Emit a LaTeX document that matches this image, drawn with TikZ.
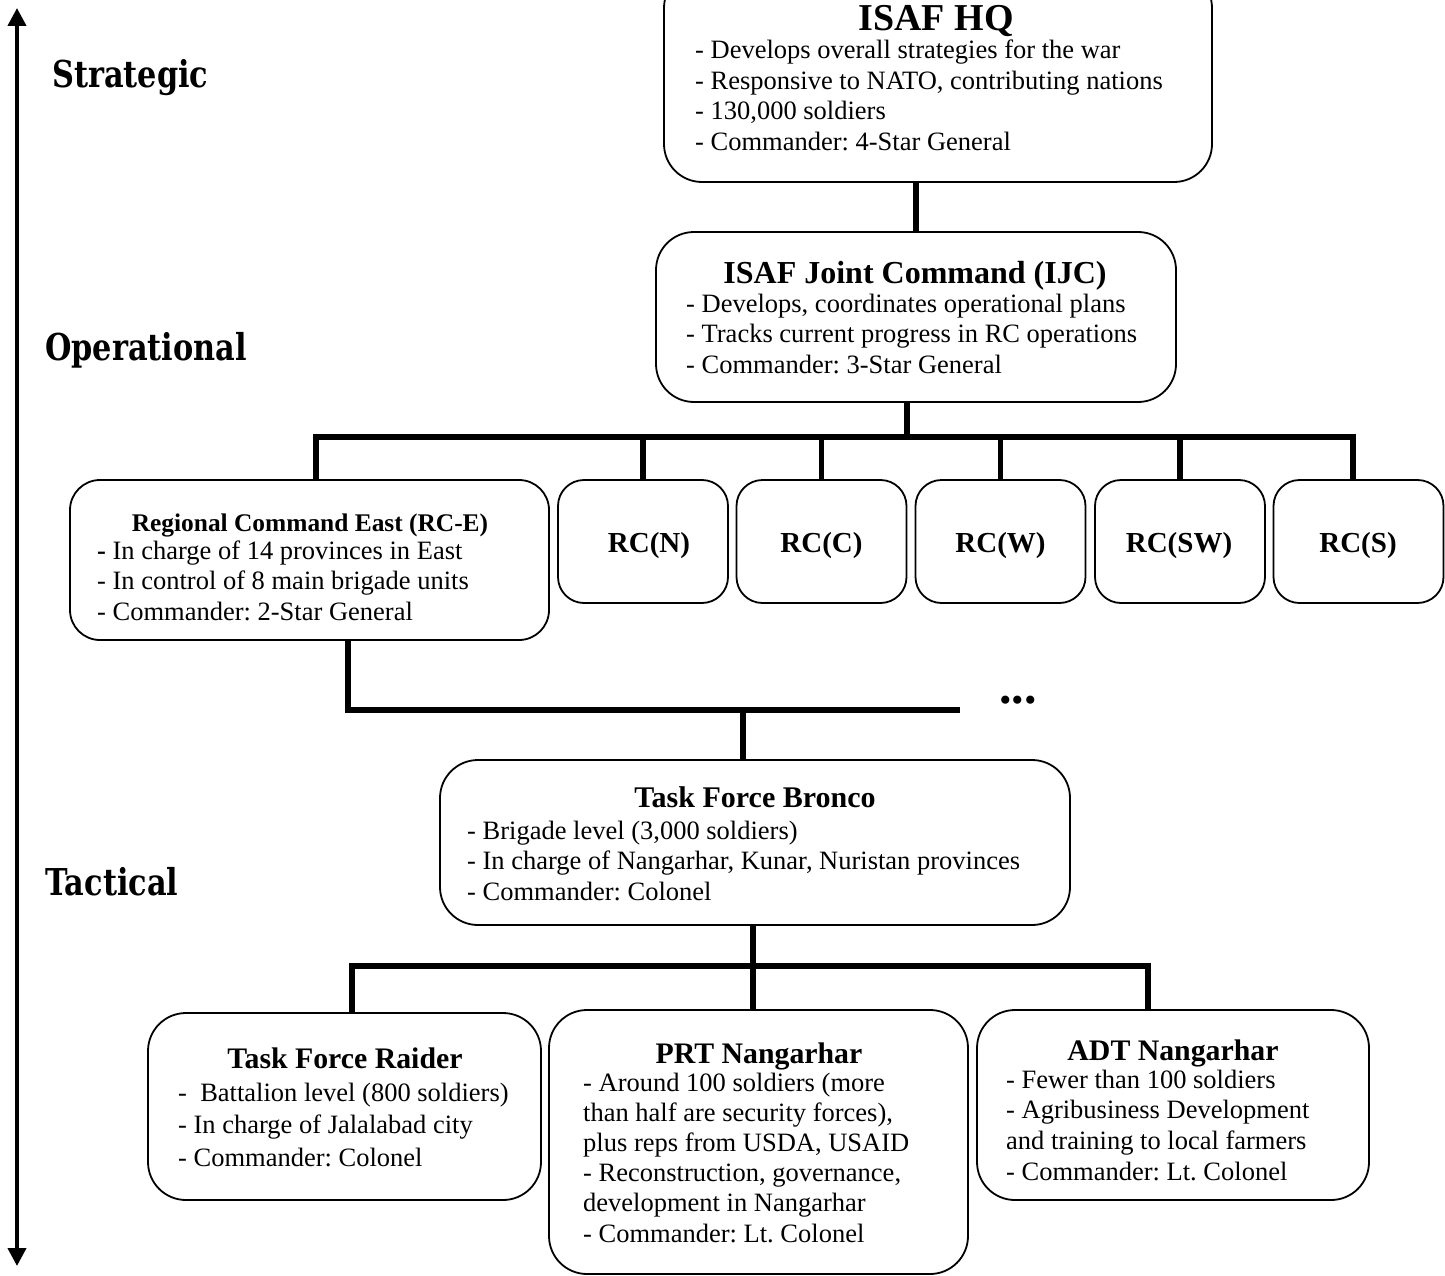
\documentclass[tikz,border=0pt]{standalone}
\usepackage{fontspec}
\setmainfont{Liberation Serif}
\newfontfamily\lvlfont[FakeStretch=0.82]{DejaVu Serif}
\usetikzlibrary{arrows.meta}
\frenchspacing
\tikzset{
  orgbox/.style={draw, line width=1.8pt, rounded corners=38pt, inner sep=0pt},
  smallbox/.style={draw, line width=1.8pt, rounded corners=26pt, inner sep=0pt, minimum width=170pt, minimum height=123pt},
  conn/.style={line width=5.5pt},
  ttl/.style={inner sep=0pt, anchor=base, font=\bfseries\fontsize{29.8}{33}\selectfont},
  rcttl/.style={inner sep=0pt, anchor=base, font=\bfseries\fontsize{29}{32}\selectfont},
  body/.style={inner sep=0pt, anchor=base west, font=\fontsize{26.5}{30.5}\selectfont},
  lvl/.style={inner sep=0pt, anchor=base west, font=\lvlfont\bfseries\fontsize{37}{41}\selectfont},
}
\newcommand{\lns}[1]{\begin{tabular}[t]{@{}l@{}}#1\end{tabular}}
\begin{document}
\begin{tikzpicture}[x=1pt,y=-1pt]
\useasboundingbox (0,0) rectangle (1445,1276);
\clip (0,0) rectangle (1445,1276);

% level arrow and labels
\coordinate (atop) at (17,8);
\coordinate (abot) at (17,1266);
\draw[line width=4pt, {Triangle[length=18pt,width=18pt]}-{Triangle[length=18pt,width=18pt]}] (atop) -- (abot);
\node[lvl] (lstr) at (52,88) {Strategic};
\node[lvl] (lop) at (45,360) {Operational};
\node[lvl] (ltac) at (45,895) {Tactical};

% boxes
\node[orgbox, minimum width=548pt, minimum height=212pt] (hq) at (938,76) {};
\node[orgbox, minimum width=520pt, minimum height=170pt] (ijc) at (916,317) {};
\node[orgbox, minimum width=479pt, minimum height=160pt, rounded corners=30pt] (rce) at (309.5,560) {};
\node[smallbox] (rcn) at (643,541.5) {};
\node[smallbox] (rcc) at (821.5,541.5) {};
\node[smallbox] (rcw) at (1000.5,541.5) {};
\node[smallbox] (rcsw) at (1180,541.5) {};
\node[smallbox] (rcs) at (1358.5,541.5) {};
\node[orgbox, minimum width=630pt, minimum height=165pt] (bronco) at (755,842.5) {};
\node[orgbox, minimum width=393pt, minimum height=187pt] (raider) at (344.5,1106.5) {};
\node[orgbox, minimum width=419pt, minimum height=264pt] (prt) at (758.5,1142) {};
\node[orgbox, minimum width=392pt, minimum height=190pt] (adt) at (1173,1105) {};

% texts
\node[ttl, font=\bfseries\fontsize{38}{42}\selectfont] (hqT) at (936,31) {ISAF HQ};
\node[body] (hqB) at (695,59) {\lns{- Develops overall strategies for the war\\- Responsive to NATO, contributing nations\\- 130,000 soldiers\\- Commander: 4-Star General}};

\node[ttl, font=\bfseries\fontsize{32}{36}\selectfont] (ijcT) at (915,283) {ISAF Joint Command (IJC)};
\node[body] (ijcB) at (686,312) {\lns{- Develops, coordinates operational plans\\- Tracks current progress in RC operations\\- Commander: 3-Star General}};

\node[ttl, font=\bfseries\fontsize{25.4}{29}\selectfont] (rceT) at (310,531) {Regional Command East (RC-E)};
\node[body] (rceB) at (97,559) {\lns{\textbf{-} In charge of 14 provinces in East\\- In control of 8 main brigade units\\- Commander: 2-Star General}};

\node[rcttl] (rcnT) at (649,552) {RC(N)};
\node[rcttl] (rccT) at (821.5,552) {RC(C)};
\node[rcttl] (rcwT) at (1000.5,552) {RC(W)};
\node[rcttl] (rcswT) at (1179,552) {RC(SW)};
\node[rcttl] (rcsT) at (1358,552) {RC(S)};

\node[ttl, font=\bfseries\fontsize{30}{33}\selectfont] (broncoT) at (755,807) {Task Force Bronco};
\node[body] (broncoB) at (467,839) {\lns{- Brigade level (3,000 soldiers)\\- In charge of Nangarhar, Kunar, Nuristan provinces\\- Commander: Colonel}};

\node[ttl] (raiderT) at (345,1068) {Task Force Raider};
\node[body, font=\fontsize{26.5}{32.5}\selectfont] (raiderB) at (178,1101) {\lns{- \ Battalion level (800 soldiers)\\- In charge of Jalalabad city\\- Commander: Colonel}};

\node[ttl] (prtT) at (759,1063) {PRT Nangarhar};
\node[body, font=\fontsize{26.5}{30.2}\selectfont] (prtB) at (583,1091) {\lns{- Around 100 soldiers (more\\than half are security forces),\\plus reps from USDA, USAID\\- Reconstruction, governance,\\development in Nangarhar\\- Commander: Lt. Colonel}};

\node[ttl] (adtT) at (1173,1060) {ADT Nangarhar};
\node[body, font=\fontsize{26.5}{30.7}\selectfont] (adtB) at (1006,1088) {\lns{- Fewer than 100 soldiers\\- Agribusiness Development\\and training to local farmers\\- Commander: Lt. Colonel}};

\node[inner sep=0pt, anchor=base, font=\bfseries\fontsize{50}{54}\selectfont] (dots) at (1018,703) {...};

% connectors
\coordinate (bus) at (907,437);
\coordinate (rced) at (316,437);
\coordinate (rcsd) at (1353,437);
\coordinate (eb) at (348,710);
\coordinate (ee) at (960,710);
\coordinate (bt) at (743,710);
\coordinate (tb) at (753,966);
\coordinate (rd) at (352,966);
\coordinate (ad) at (1148,966);

\draw[conn] (ijc.north) -- (ijc.north |- hq.south);
\draw[conn] (ijc.south -| bus) -- (bus);
\draw[conn] (rce.north -| rced) -- (rced) -- (rcsd) -- (rcs.north -| rcsd);
\draw[conn] (rcn.north) -- (rcn.north |- bus);
\draw[conn] (rcc.north) -- (rcc.north |- bus);
\draw[conn] (rcw.north) -- (rcw.north |- bus);
\draw[conn] (rcsw.north) -- (rcsw.north |- bus);

\draw[conn] (rce.south -| eb) -- (eb) -- (ee);
\draw[conn] (bt) -- (bronco.north -| bt);

\draw[conn] (bronco.south -| tb) -- (prt.north -| tb);
\draw[conn] (raider.north -| rd) -- (rd) -- (ad) -- (adt.north -| ad);
\end{tikzpicture}
\end{document}
